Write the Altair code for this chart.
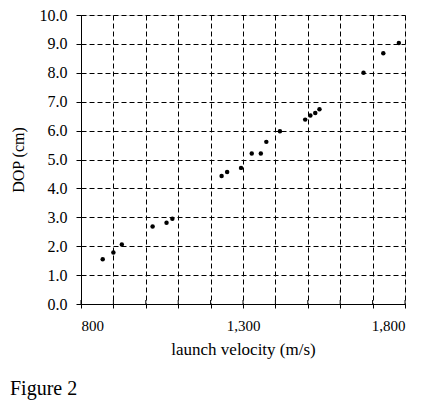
import altair as alt
import pandas as pd

velocity = [867, 900, 926, 1021, 1064, 1082, 1234, 1251, 1294, 1327, 1355, 1372,
            1414, 1492, 1508, 1523, 1536, 1672, 1733, 1781]
dop = [1.55, 1.78, 2.06, 2.68, 2.81, 2.95, 4.43, 4.57, 4.71, 5.21, 5.21, 5.61,
       5.98, 6.38, 6.52, 6.61, 6.74, 8.00, 8.68, 9.03]
x_ticks = [800, 900, 1000, 1100, 1200, 1300, 1400, 1500, 1600, 1700, 1800]
x_labels = [800, 1300, 1800]
y_ticks = [0, 1, 2, 3, 4, 5, 6, 7, 8, 9, 10]
caption = ["Figure 2"]

FONT = "Liberation Serif"
W, H = 324, 289

df = pd.DataFrame({"v": velocity, "d": dop})
ticks_df = pd.DataFrame({"v": x_ticks})
cap_df = pd.DataFrame({"c": caption})

xscale = alt.Scale(domain=[800, 1800], nice=False, zero=False)
yscale = alt.Scale(domain=[0, 10], nice=False)

label_list = ",".join(str(v) for v in x_labels)

x_axis = alt.Axis(title="launch velocity (m/s)", values=x_ticks,
                  labelExpr=f"indexof([{label_list}], datum.value) >= 0 ? format(datum.value, ',') : ''",
                  labelOverlap=False,
                  tickSize=4, labelPadding=10, titlePadding=8,
                  grid=True, gridDash=[5, 3], gridColor="black", gridOpacity=1,
                  domainColor="black", tickColor="black",
                  labelFont=FONT, labelFontSize=15, labelColor="black",
                  titleFont=FONT, titleFontSize=17, titleFontWeight="normal",
                  titleColor="black")

points = alt.Chart(df).mark_circle(size=20, color="black", opacity=1).encode(
    x=alt.X("v:Q", scale=xscale, axis=x_axis),
    y=alt.Y("d:Q", scale=yscale,
            axis=alt.Axis(title="DOP (cm)", values=y_ticks, format=".1f",
                          labelOverlap=False,
                          tickSize=5, labelPadding=9, titlePadding=13,
                          grid=True, gridDash=[5, 3], gridColor="black", gridOpacity=1,
                          domainColor="black", tickColor="black",
                          labelFont=FONT, labelFontSize=16, labelColor="black",
                          titleFont=FONT, titleFontSize=16, titleFontWeight="normal",
                          titleColor="black")),
)

inner_ticks = alt.Chart(ticks_df).mark_rule(color="black", strokeWidth=1).encode(
    x=alt.X("v:Q", scale=xscale, axis=x_axis),
    y=alt.value(H - 4),
    y2=alt.value(H),
)

cap = alt.Chart(cap_df).mark_text(font=FONT, fontSize=20, align="left",
                                   baseline="alphabetic", color="black").encode(
    text="c:N",
    x=alt.value(-71),
    y=alt.value(380),
)

chart = alt.layer(points, inner_ticks, cap).properties(
    width=W, height=H,
    autosize=alt.AutoSizeParams(type="none"),
    padding={"left": 73, "top": 7, "right": 15, "bottom": 97},
).configure_view(stroke="black", strokeWidth=1).configure(background="white")

chart.save("out.html", embed_options={"renderer": "svg", "actions": False})
